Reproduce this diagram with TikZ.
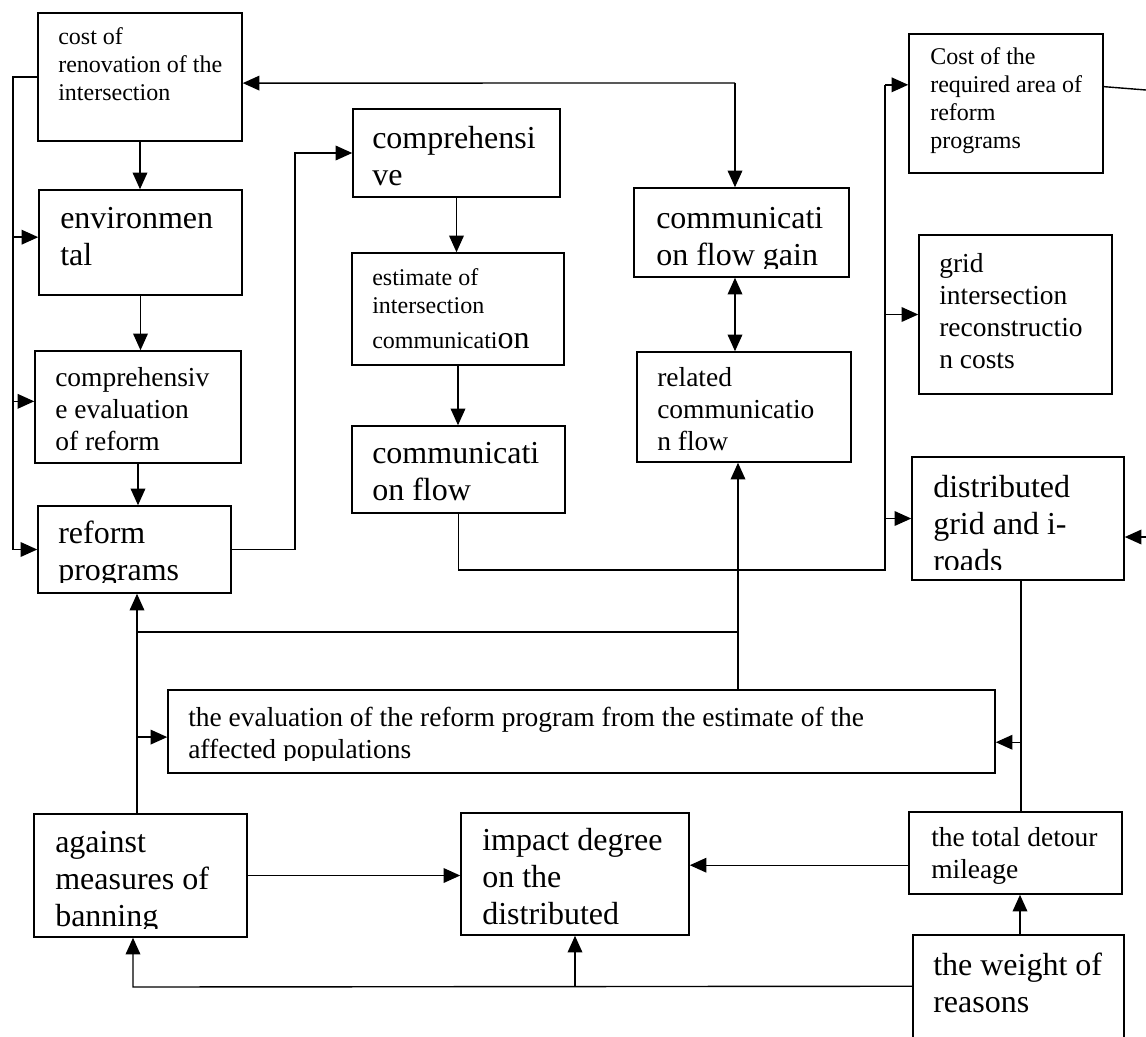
\documentclass[tikz,border=0pt]{standalone}
\usepackage{fontspec}
\setmainfont{Liberation Serif}
\usetikzlibrary{arrows.meta,fit,calc}
\tikzset{
  box/.style={draw, line width=1.15pt, inner sep=0pt, fit={#1}},
  txt/.style={anchor=base west, inner sep=0pt, align=left},
  tsmall/.style={font=\fontsize{18}{21}\selectfont},
  tmed/.style={font=\fontsize{20.6}{23.8}\selectfont},
  tlarge/.style={font=\fontsize{24}{27.5}\selectfont},
  ln/.style={line width=1.05pt},
  arr/.style={ln, -{Triangle[length=12.5pt,width=11pt]}},
  arrtwo/.style={ln, {Triangle[length=12.5pt,width=11pt]}-{Triangle[length=12.5pt,width=11pt]}}
}
\begin{document}
\begin{tikzpicture}[x=0.75pt,y=-0.75pt]
\clip (0,0) rectangle (1146,1036);
\fill[white] (0,0) rectangle (1146,1036);

% boxes
\node[box={(38,13) (242,141)}] (A) {};
\node[box={(39,190) (242,295)}] (B) {};
\node[box={(35,351) (241,463)}] (C) {};
\node[box={(38,506) (231,593)}] (D) {};
\node[box={(353,109) (560,197)}] (E) {};
\node[box={(352,253) (564,365)}] (F) {};
\node[box={(352,426) (565,513)}] (G) {};
\node[box={(634,188) (849,277)}] (H) {};
\node[box={(637,352) (851,462)}] (I) {};
\node[box={(909,34) (1103,173)}] (K) {};
\node[box={(919,235) (1112,394)}] (L) {};
\node[box={(912,457) (1124,580)}] (M) {};
\node[box={(168,690) (995,773)}] (J) {};
\node[box={(34,814) (247,937)}] (N) {};
\node[box={(461,813) (689,935)}] (O) {};
\node[box={(909,812) (1122,894)}] (P) {};
\node[box={(913,935) (1124,1060)}] (Q) {};

% texts (anchor = baseline of the last line)
\node[txt,tsmall] (At) at (58,100) {cost of\\renovation of the\\intersection};
\node[txt,tlarge] (Bt) at (60,265) {environmen\\tal};
\node[txt,tmed] (Ct) at (55,450) {comprehensiv\\e evaluation\\of reform};
\begin{scope}
\clip (38,506) rectangle (231,582);
\node[txt,tlarge] (Dt) at (58,580) {reform\\programs};
\end{scope}
\node[txt,tlarge] (Et) at (372,185) {comprehensi\\ve};
\node[txt,tsmall] (Ft) at (372,348) {estimate of\\intersection\\[5pt]communicati{\fontsize{24}{28}\selectfont on}};
\node[txt,tlarge] (Gt) at (372,500) {communicati\\on flow};
\begin{scope}
\clip (634,188) rectangle (849,268);
\node[txt,tlarge] (Ht) at (656,265) {communicati\\on flow gain};
\end{scope}
\node[txt,tmed] (It) at (657,450) {related\\communicatio\\n flow};
\node[txt,tsmall] (Kt) at (930,148) {Cost of the\\required area of\\reform\\programs};
\node[txt,tmed] (Lt) at (939,368) {grid\\intersection\\reconstructio\\n costs};
\begin{scope}
\clip (912,457) rectangle (1124,569);
\node[txt,tlarge] (Mt) at (933,571) {distributed\\grid and i-\\roads};
\end{scope}
\begin{scope}
\clip (168,690) rectangle (995,760);
\node[txt,tmed] (Jt) at (188,758) {the evaluation of the reform program from the estimate of the\\affected populations};
\end{scope}
\begin{scope}
\clip (34,814) rectangle (247,928);
\node[txt,tlarge] (Nt) at (55,926) {against\\measures of\\banning};
\end{scope}
\begin{scope}
\clip (461,813) rectangle (689,924);
\node[txt,tlarge] (Ot) at (482,924) {impact degree\\on the\\distributed};
\end{scope}
\node[txt,tmed] (Pt) at (931,878) {the total detour\\mileage};
\node[txt,tlarge] (Qt) at (933,1012) {the weight of\\reasons};

% connectors
\coordinate (L1) at (13,77);
\draw[ln] (A.west) -- (L1) -- (L1 |- D.west);
\coordinate (Bw) at ($(B.north west)!0.45!(B.south west)$);
\draw[arr] (L1 |- Bw) -- (Bw);
\coordinate (Cw) at ($(C.north west)!0.45!(C.south west)$);
\draw[arr] (L1 |- Cw) -- (Cw);
\draw[arr] (L1 |- D.west) -- (D.west);
\draw[arr] (A.south) -- (A.south |- B.north);
\draw[arr] (B.south) -- (B.south |- C.north);
\draw[arr] (C.south) -- (C.south |- D.north);
\coordinate (R1) at (295,153);
\draw[arr] (D.east) -| (R1) -- (R1 -| E.west);
\draw[arr] (E.south) -- (E.south |- F.north);
\draw[arr] (F.south) -- (F.south |- G.north);
\coordinate (S1) at (885,570);
\coordinate (Kin) at ($(K.north west)!0.367!(K.south west)$);
\draw[ln] (G.south) |- (S1) -- (S1 |- Kin);
\draw[arr] (S1 |- Kin) -- (Kin);
\draw[arr] (S1 |- L.west) -- (L.west);
\draw[arr] (S1 |- M.west) -- (M.west);
\coordinate (T1) at (735,83);
\coordinate (Ain) at ($(A.north east)!0.547!(A.south east)$);
\draw[arr] (T1) -- (Ain);
\draw[arr] (T1) -- (T1 |- H.north);
\draw[arrtwo] (T1 |- H.south) -- (T1 |- I.north);
\coordinate (V1) at (738,632);
\coordinate (V2) at (137,632);
\draw[arr] (V1 |- J.north) -- (V1 |- I.south);
\draw[ln] (V1) -- (V2);
\draw[arr] (V2 |- N.north) -- (V2 |- D.south);
\coordinate (Jwin) at ($(J.north west)!0.566!(J.south west)$);
\draw[arr] (V2 |- Jwin) -- (Jwin);
\coordinate (V3) at (1021,580);
\draw[ln] (V3) -- (V3 |- P.north);
\coordinate (Jin) at ($(J.north east)!0.627!(J.south east)$);
\draw[arr] (V3 |- Jin) -- (Jin);
\coordinate (E1) at (1146,537);
\draw[arr] (E1) -- (E1 -| M.east);
\coordinate (E2) at (1146,90);
\draw[ln] ($(K.north east)!0.38!(K.south east)$) -- (E2);
\coordinate (Nout) at ($(N.north east)!0.5!(N.south east)$);
\draw[arr] (Nout) -- (Nout -| O.west);
\coordinate (Pw) at ($(P.north west)!0.646!(P.south west)$);
\draw[arr] (Pw) -- (Pw -| O.east);
\coordinate (Qn) at (1020,935);
\draw[arr] (Qn) -- (Qn |- P.south);
\coordinate (Qw) at ($(Q.north west)+(0,52)$);
\coordinate (B1) at (133,987);
\draw[arr] (Qw) -- (B1) -- (B1 |- N.south);
\draw[arr] (O.south |- Qw) -- (O.south);
\end{tikzpicture}
\end{document}
